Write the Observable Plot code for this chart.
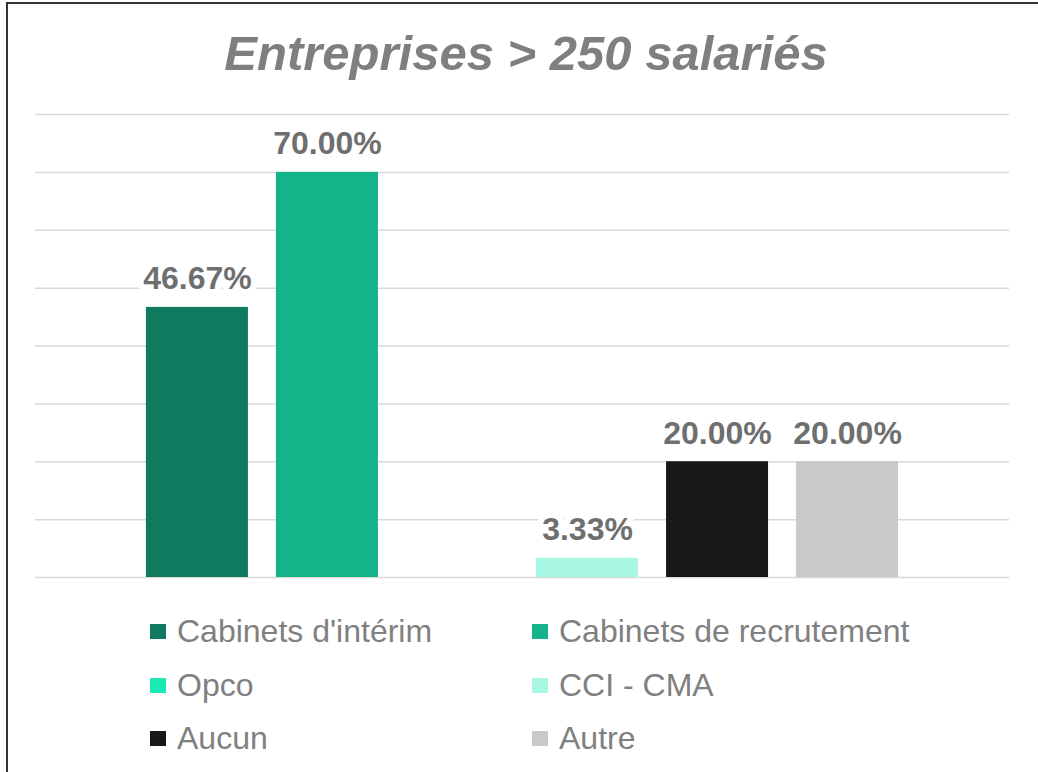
<!DOCTYPE html>
<html>
<head>
<meta charset="utf-8">
<script src="https://cdn.jsdelivr.net/npm/d3@7"></script>
<script src="https://cdn.jsdelivr.net/npm/@observablehq/plot@0.6"></script>
<style>
  html, body { margin: 0; padding: 0; background: #fff; }
  #wrap { position: relative; width: 1038px; height: 772px; overflow: hidden; font-family: "Liberation Sans", Arial, sans-serif; }
  #frame { position: absolute; left: 6px; top: 2px; width: 1200px; height: 1000px; border-left: 2px solid #333; border-top: 2px solid #333; pointer-events: none; }
  #title { box-sizing: border-box; height: 100px; padding-top: 25px; padding-left: 14px; text-align: center; font-size: 49px; line-height: 56px; font-weight: bold; font-style: italic; color: #7f7f7f; }
  #chart svg { display: block; }
  #legend { display: grid; grid-template-columns: 382px 382px; grid-auto-rows: 53.5px; margin-left: 150px; padding-top: 5px; }
  .item { display: flex; align-items: center; font-size: 32px; color: #808080; white-space: nowrap; }
  .sw { width: 16px; height: 15px; margin-right: 11px; flex: none; }
</style>
</head>
<body>
<div id="wrap">
  <div id="title">Entreprises &gt; 250 salariés</div>
  <div id="chart"></div>
  <div id="legend"></div>
  <div id="frame"></div>
</div>
<script>
const categories = ["Cabinets d'intérim", "Cabinets de recrutement", "Opco", "CCI - CMA", "Aucun", "Autre"];
const values = [46.67, 70.00, null, 3.33, 20.00, 20.00];
const colors = ["#0e7a5e", "#13b48a", "#1de9b6", "#a7f7e3", "#181818", "#c9c9c9"];
const gridTicks = [0, 10, 20, 30, 40, 50, 60, 70, 80];

const data = categories.map((c, i) => ({category: c, value: values[i]}));
const labelled = data.filter(d => d.value != null);

const chart = Plot.plot({
  width: 1038,
  height: 500,
  marginTop: 14,
  marginBottom: 23,
  marginLeft: 35,
  marginRight: 29,
  style: {fontFamily: "Liberation Sans, Arial, sans-serif", background: "white"},
  x: {domain: categories, paddingInner: 0.2154, paddingOuter: 0.853, round: false, axis: null},
  y: {domain: [0, 80], axis: null},
  color: {domain: categories, range: colors},
  marks: [
    Plot.ruleY(gridTicks, {stroke: "#d9d9d9", strokeWidth: 1.5}),
    Plot.barY(labelled, {x: "category", y: "value", fill: "category"}),
    Plot.text(labelled, {
      x: "category", y: "value",
      text: d => d.value.toFixed(2) + "%",
      lineAnchor: "bottom", dy: -18,
      fontSize: 32, fontWeight: "bold", fill: "#6f6f6f",
      stroke: "white", strokeWidth: 12, paintOrder: "stroke"
    })
  ]
});
document.getElementById("chart").appendChild(chart);

const legend = document.getElementById("legend");
categories.forEach((c, i) => {
  const item = document.createElement("div");
  item.className = "item";
  const sw = document.createElement("span");
  sw.className = "sw";
  sw.style.background = colors[i];
  const t = document.createElement("span");
  t.textContent = c;
  item.appendChild(sw);
  item.appendChild(t);
  legend.appendChild(item);
});
</script>
</body>
</html>
